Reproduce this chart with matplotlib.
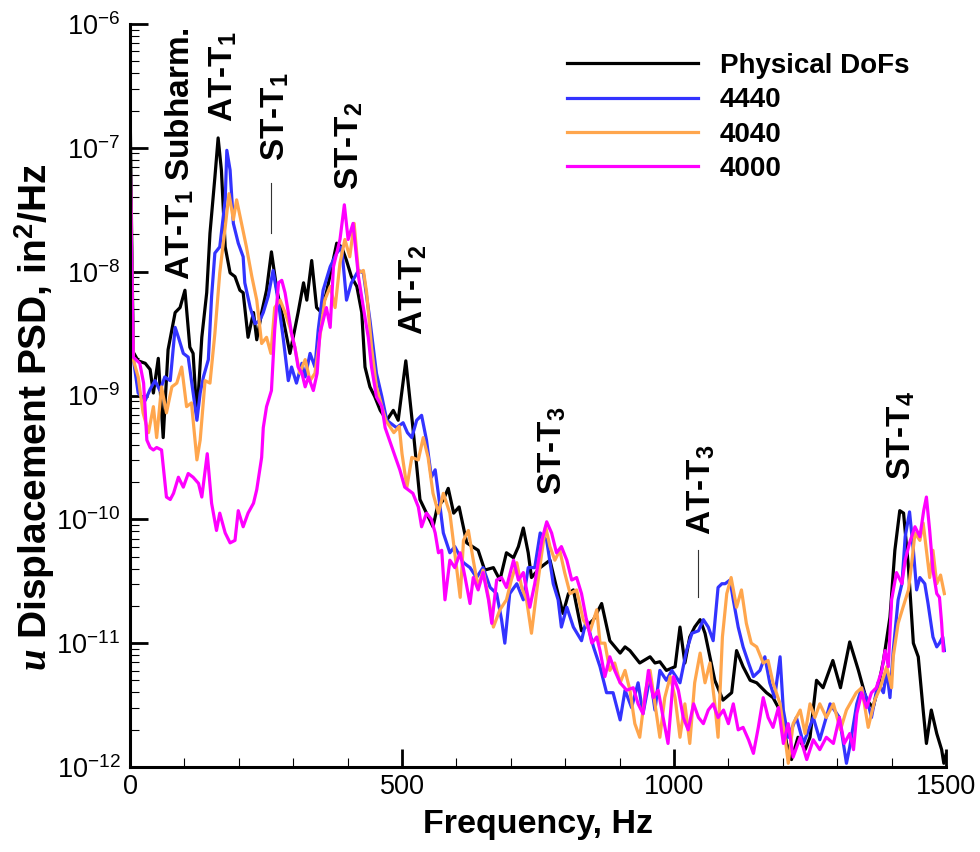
import numpy as np
import matplotlib
matplotlib.use("Agg")
import matplotlib.pyplot as plt
from matplotlib.ticker import MultipleLocator, LogLocator, NullFormatter

# PSD traces as (frequency in Hz, log10 of PSD in in^2/Hz) vertices
physical_dofs = [
    (0, -6.6), (3, -7.7), (6, -8.65), (15, -8.72), (28, -8.74), (37, -8.79), (43, -8.98),
    (52, -8.70), (61, -9.34), (70, -8.63), (83, -8.33), (92, -8.29), (101, -8.15), (110, -8.61),
    (116, -8.66), (123, -9.17), (132, -8.53), (141, -8.17), (147, -7.69), (156, -7.24), (162, -6.92),
    (168, -7.18), (175, -7.80), (184, -8.01), (193, -8.04), (202, -8.15), (208, -8.17), (217, -8.53),
    (227, -8.33), (233, -8.55), (242, -8.33), (251, -8.15), (260, -7.84), (270, -8.15), (282, -8.39),
    (294, -8.66), (300, -8.53), (309, -8.33), (319, -8.09), (325, -8.23), (334, -7.91), (343, -8.29),
    (352, -8.33), (362, -8.15), (371, -7.96), (380, -7.77), (389, -7.80), (398, -7.91), (407, -8.04),
    (417, -8.12), (426, -8.33), (432, -8.77), (441, -8.93), (450, -9.01), (460, -9.12), (472, -9.20),
    (484, -9.12), (493, -9.20), (507, -8.72), (521, -9.30), (533, -9.84), (545, -9.95), (557, -10.06),
    (565, -9.90), (575, -9.85), (585, -9.75), (595, -9.95), (605, -9.90), (619, -10.19), (640, -10.25),
    (652, -10.41), (668, -10.39), (680, -10.49), (692, -10.27), (705, -10.31), (714, -10.22),
    (723, -10.07), (732, -10.27), (738, -10.47), (754, -10.39), (772, -10.33), (784, -10.55),
    (796, -10.76), (806, -10.60), (815, -10.57), (830, -10.90), (852, -10.81), (867, -10.68),
    (882, -10.98), (901, -11.08), (910, -11.03), (919, -11.06), (928, -11.11), (937, -11.16),
    (956, -11.11), (965, -11.16), (974, -11.15), (986, -11.22), (1002, -11.19), (1011, -10.87),
    (1020, -11.16), (1029, -10.95), (1038, -10.87), (1048, -10.81), (1057, -10.92), (1066, -11.11),
    (1075, -11.30), (1090, -11.46), (1106, -11.40), (1115, -11.06), (1127, -11.19), (1140, -11.30),
    (1152, -11.32), (1170, -11.40), (1182, -11.44), (1198, -11.57), (1207, -11.81), (1216, -11.94),
    (1228, -11.76), (1241, -11.86), (1250, -11.76), (1262, -11.30), (1274, -11.36), (1292, -11.14),
    (1306, -11.36), (1323, -10.99), (1339, -11.22), (1354, -11.46), (1366, -11.52), (1375, -11.36),
    (1385, -11.14), (1397, -10.79), (1406, -10.25), (1415, -9.93), (1422, -9.95), (1431, -10.39),
    (1440, -11.00), (1449, -11.11), (1458, -11.54), (1464, -11.81), (1473, -11.54), (1483, -11.73),
    (1492, -11.86), (1496, -11.97), (1500, -11.90),
]

modes_4440 = [
    (0, -6.95), (3, -7.9), (6, -8.7), (15, -8.98), (28, -9.04), (37, -8.95), (46, -8.88),
    (55, -8.96), (64, -8.85), (74, -8.88), (83, -8.45), (89, -8.53), (98, -8.66), (107, -8.69),
    (113, -8.88), (123, -9.2), (129, -8.98), (135, -8.85), (144, -8.71), (150, -8.2), (156, -7.85),
    (165, -7.80), (175, -7.42), (178, -7.02), (184, -7.18), (190, -7.61), (199, -7.77), (208, -7.88),
    (211, -8.09), (221, -8.29), (230, -8.42), (239, -8.39), (245, -8.33), (254, -8.2), (263, -7.99),
    (273, -8.25), (282, -8.55), (291, -8.88), (297, -8.77), (306, -8.9), (316, -8.74), (322, -8.85),
    (331, -8.66), (340, -8.77), (346, -8.47), (355, -8.15), (368, -7.96), (380, -7.85), (389, -7.80),
    (398, -8.23), (407, -8.09), (420, -7.99), (429, -8.01), (441, -8.39), (453, -8.82), (463, -9.01),
    (472, -9.2), (490, -9.26), (502, -9.22), (510, -9.3), (518, -9.34), (527, -9.2), (536, -9.16),
    (545, -9.36), (554, -9.66), (561, -9.6), (570, -9.9), (576, -10.11), (588, -10.27), (597, -10.22),
    (613, -10.35), (625, -10.39), (637, -10.47), (649, -10.39), (662, -10.55), (674, -10.6),
    (683, -10.81), (689, -11.0), (698, -10.6), (711, -10.52), (723, -10.65), (732, -10.39),
    (744, -10.39), (754, -10.11), (766, -10.17), (778, -10.52), (787, -10.65), (793, -10.87),
    (803, -10.71), (815, -10.87), (830, -10.98), (839, -10.81), (852, -11.03), (864, -11.19),
    (876, -11.4), (888, -11.4), (901, -11.62), (910, -11.38), (922, -11.52), (934, -11.32),
    (943, -11.57), (956, -11.27), (965, -11.54), (974, -11.22), (986, -11.3), (996, -11.22),
    (1011, -11.32), (1023, -11.06), (1033, -10.92), (1045, -10.9), (1054, -10.81), (1063, -10.87),
    (1072, -10.98), (1081, -10.55), (1088, -10.52), (1094, -10.52), (1103, -10.49), (1109, -10.65),
    (1118, -10.87), (1127, -11.03), (1137, -11.16), (1146, -11.27), (1158, -11.22), (1167, -11.11),
    (1176, -11.32), (1185, -11.44), (1195, -11.11), (1201, -11.54), (1210, -11.76), (1225, -11.6),
    (1238, -11.81), (1256, -11.6), (1268, -11.78), (1287, -11.49), (1304, -11.6), (1317, -11.97),
    (1323, -11.84), (1336, -11.49), (1345, -11.36), (1354, -11.44), (1363, -11.6), (1375, -11.32),
    (1385, -11.4), (1391, -11.22), (1397, -11.44), (1403, -11.06), (1412, -10.65), (1419, -10.52),
    (1425, -10.14), (1433, -9.94), (1440, -10.25), (1446, -10.57), (1452, -10.47), (1461, -10.52),
    (1467, -10.68), (1476, -10.95), (1483, -11.03), (1488, -11.0), (1494, -10.95), (1497, -11.06),
]

modes_4040 = [
    (0, -6.95), (3, -7.9), (6, -8.71), (15, -8.85), (24, -9.14), (34, -9.3), (43, -9.09),
    (49, -9.34), (58, -8.93), (67, -9.14), (77, -8.93), (86, -8.9), (95, -8.77), (104, -9.09),
    (113, -9.06), (123, -9.52), (129, -9.36), (138, -8.88), (147, -8.9), (156, -8.5), (165, -8.01),
    (175, -7.64), (182, -7.37), (190, -7.58), (196, -7.42), (205, -7.61), (214, -7.80), (224, -8.04),
    (233, -8.23), (242, -8.58), (251, -8.53), (259, -8.66), (266, -8.29), (276, -8.23), (285, -8.33),
    (294, -8.45), (303, -8.61), (312, -8.82), (322, -8.71), (331, -8.88), (340, -8.82), (349, -8.53),
    (358, -8.23), (368, -8.12), (377, -8.29), (386, -7.93), (395, -7.74), (404, -7.88), (412, -7.61),
    (420, -8.01), (429, -7.99), (435, -8.17), (444, -8.61), (453, -8.93), (463, -9.09), (470, -9.2),
    (485, -9.3), (495, -9.25), (500, -9.47), (509, -9.74), (518, -9.5), (530, -9.52), (539, -9.34),
    (548, -9.5), (557, -9.79), (567, -9.95), (576, -9.79), (588, -9.95), (597, -10.27), (607, -10.63),
    (613, -10.17), (622, -10.09), (631, -10.33), (640, -10.55), (649, -10.41), (659, -10.63),
    (668, -10.87), (680, -10.73), (692, -10.65), (701, -10.49), (711, -10.35), (720, -10.55),
    (729, -10.65), (738, -10.92), (747, -10.6), (757, -10.27), (764, -10.06), (772, -10.22),
    (781, -10.33), (790, -10.25), (799, -10.43), (809, -10.6), (821, -10.57), (833, -10.81),
    (846, -10.9), (858, -10.73), (864, -11.0), (873, -11.0), (882, -11.22), (891, -11.16),
    (901, -11.32), (910, -11.22), (919, -11.38), (928, -11.65), (937, -11.76), (947, -11.4),
    (956, -11.22), (965, -11.49), (974, -11.76), (983, -11.44), (993, -11.27), (1002, -11.44),
    (1011, -11.76), (1020, -11.49), (1029, -11.81), (1038, -11.32), (1048, -11.08), (1057, -11.32),
    (1066, -11.16), (1075, -11.49), (1081, -11.76), (1089, -10.95), (1097, -10.6), (1105, -10.47),
    (1115, -10.71), (1124, -10.57), (1133, -10.84), (1142, -11.0), (1152, -11.03), (1164, -11.16),
    (1173, -11.14), (1182, -11.32), (1195, -11.49), (1204, -11.76), (1210, -11.97), (1219, -11.65),
    (1232, -11.54), (1241, -11.73), (1250, -11.49), (1259, -11.6), (1268, -11.49), (1280, -11.6),
    (1293, -11.49), (1306, -11.7), (1317, -11.54), (1335, -11.4), (1345, -11.36), (1357, -11.68),
    (1369, -11.46), (1379, -11.36), (1391, -11.19), (1400, -11.36), (1403, -11.11), (1412, -10.84),
    (1421, -10.71), (1431, -10.57), (1437, -10.35), (1443, -10.11), (1452, -10.17), (1458, -10.03),
    (1464, -10.25), (1470, -10.47), (1476, -10.25), (1483, -10.52), (1490, -10.45), (1497, -10.6),
]

modes_4000 = [
    (0, -6.95), (3, -7.9), (6, -8.69), (18, -8.74), (25, -8.9), (31, -9.36), (37, -9.42),
    (43, -9.44), (49, -9.42), (58, -9.44), (67, -9.82), (74, -9.84), (80, -9.79), (89, -9.66),
    (98, -9.74), (107, -9.63), (116, -9.66), (126, -9.71), (132, -9.82), (142, -9.47), (150, -9.87),
    (159, -10.09), (165, -9.95), (175, -10.11), (184, -10.19), (193, -10.17), (199, -9.93),
    (208, -10.06), (217, -9.95), (227, -9.87), (233, -9.76), (242, -9.5), (245, -9.26), (251, -9.09),
    (260, -8.96), (266, -8.47), (273, -8.09), (279, -8.07), (285, -8.17), (291, -8.33), (297, -8.5),
    (303, -8.61), (309, -8.77), (316, -8.82), (322, -8.93), (328, -8.85), (337, -8.96), (344, -8.82),
    (349, -8.50), (361, -8.29), (368, -8.45), (374, -7.96), (386, -7.74), (394, -7.46), (401, -7.74),
    (410, -7.61), (420, -8.04), (429, -8.29), (438, -8.53), (444, -8.77), (453, -9.01), (463, -9.09),
    (469, -9.26), (480, -9.4), (488, -9.5), (496, -9.6), (505, -9.74), (511, -9.76), (520, -9.79),
    (530, -9.9), (536, -10.06), (545, -9.95), (554, -10.0), (561, -10.11), (567, -10.27),
    (573, -10.25), (579, -10.65), (588, -10.33), (597, -10.39), (607, -10.27), (616, -10.47),
    (625, -10.68), (631, -10.47), (640, -10.57), (649, -10.43), (659, -10.65), (665, -10.84),
    (674, -10.49), (683, -10.47), (692, -10.55), (705, -10.33), (714, -10.49), (723, -10.43),
    (735, -10.71), (744, -10.52), (757, -10.17), (766, -10.02), (775, -10.11), (784, -10.27),
    (793, -10.22), (803, -10.33), (812, -10.49), (821, -10.47), (830, -10.6), (839, -10.81),
    (849, -11.0), (858, -10.95), (864, -11.06), (873, -11.27), (882, -11.11), (891, -11.22),
    (901, -11.32), (913, -11.38), (925, -11.36), (934, -11.49), (943, -11.57), (953, -11.22),
    (962, -11.44), (971, -11.38), (980, -11.6), (989, -11.81), (999, -11.27), (1008, -11.38),
    (1017, -11.6), (1026, -11.7), (1036, -11.49), (1045, -11.6), (1054, -11.65), (1063, -11.54),
    (1072, -11.49), (1081, -11.6), (1091, -11.54), (1100, -11.65), (1109, -11.49), (1118, -11.7),
    (1127, -11.68), (1137, -11.78), (1146, -11.89), (1155, -11.68), (1164, -11.44), (1173, -11.6),
    (1182, -11.68), (1192, -11.52), (1201, -11.81), (1210, -11.65), (1219, -11.92), (1232, -11.76),
    (1244, -11.94), (1256, -11.78), (1268, -11.86), (1280, -11.76), (1293, -11.81), (1304, -11.6),
    (1313, -11.81), (1323, -11.73), (1330, -11.86), (1336, -11.57), (1345, -11.4), (1354, -11.52),
    (1363, -11.4), (1372, -11.36), (1382, -11.22), (1388, -11.06), (1394, -11.19), (1400, -10.65),
    (1409, -10.43), (1419, -10.52), (1425, -10.33), (1433, -10.19), (1443, -10.06), (1452, -10.14),
    (1459, -9.93), (1464, -9.82), (1470, -10.09), (1476, -10.41), (1483, -10.6), (1488, -10.63),
    (1492, -10.84), (1495, -11.06),
]

series = [physical_dofs, modes_4440, modes_4040, modes_4000]
series_labels = ["Physical DoFs", "4440", "4040", "4000"]
series_colors = ["#000000", "#3333ff", "#ffa64d", "#ff00ff"]

# peak labels: text, frequency and log10 PSD at the lower end of the text
peak_texts = [
    r"AT-T$_{\mathdefault{1}}$ Subharm.", r"AT-T$_{\mathdefault{1}}$", r"ST-T$_{\mathdefault{1}}$",
    r"ST-T$_{\mathdefault{2}}$", r"AT-T$_{\mathdefault{2}}$", r"ST-T$_{\mathdefault{3}}$",
    r"AT-T$_{\mathdefault{3}}$", r"ST-T$_{\mathdefault{4}}$",
]
peak_freqs = [92, 171, 268, 404, 520, 776, 1050, 1417]
peak_levels = [-8.07, -6.79, -7.11, -7.34, -8.51, -9.80, -10.13, -9.68]

# short leader lines under two of the labels
leader_freqs = [259, 1044]
leader_low = [-7.69, -10.63]
leader_high = [-7.28, -10.25]

plt.rcParams["font.family"] = ["Liberation Sans", "DejaVu Sans"]
plt.rcParams["axes.unicode_minus"] = False
plt.rcParams["mathtext.fontset"] = "custom"
plt.rcParams["mathtext.it"] = "Liberation Serif:italic:bold"
plt.rcParams["mathtext.rm"] = "Liberation Sans"
plt.rcParams["mathtext.bf"] = "Liberation Sans:bold"

fig = plt.figure(figsize=(9.8, 8.52), dpi=100)
ax = fig.add_axes([130 / 980, 85 / 852, 816 / 980, 743 / 852])

for data, label, color in zip(series, series_labels, series_colors):
    f, lg = np.array(data).T
    ax.plot(f, 10.0 ** lg, color=color, lw=2.3, label=label)

for text, f, lg in zip(peak_texts, peak_freqs, peak_levels):
    ax.text(f, 10.0 ** lg, text, rotation=90, ha="center", va="bottom",
            fontsize=24, fontweight="bold")

for f, lo, hi in zip(leader_freqs, leader_low, leader_high):
    ax.plot([f, f], [10.0 ** lo, 10.0 ** hi], color="#333333", lw=0.8)

ax.set_yscale("log")
ax.set_xlim(0, 1500)
ax.set_ylim(1e-12, 1e-6)

ax.xaxis.set_major_locator(MultipleLocator(500))
ax.xaxis.set_minor_locator(MultipleLocator(100))
ax.yaxis.set_major_locator(LogLocator(base=10, numticks=20))
ax.yaxis.set_minor_locator(LogLocator(base=10, subs=np.arange(2, 10), numticks=100))
ax.yaxis.set_minor_formatter(NullFormatter())

for side in ["top", "right"]:
    ax.spines[side].set_visible(False)
for side in ["left", "bottom"]:
    ax.spines[side].set_linewidth(2.2)

ax.tick_params(which="major", direction="in", length=13, width=2, labelsize=19.5)
ax.tick_params(which="minor", direction="in", length=6.5, width=0.8)
ax.tick_params(axis="x", which="major", pad=5)
ax.tick_params(axis="y", which="major", pad=7)

ax.set_xlabel("Frequency, Hz", fontsize=24.5, fontweight="bold")
ax.xaxis.set_label_coords(0.5, -0.056)
ax.xaxis.label.set_va("top")
ax.set_ylabel(r"$\mathit{u}$ Displacement PSD, in$^{\mathdefault{2}}$/Hz",
              fontsize=28, fontweight="bold")
ax.yaxis.set_label_coords(-0.089, 0.47)

ax.legend(loc="upper left", bbox_to_anchor=(567 / 980, 1 - 53 / 852),
          bbox_transform=fig.transFigure, frameon=False,
          prop={"weight": "bold", "size": 20}, handlelength=4.7,
          handletextpad=0.8, labelspacing=0.3, borderpad=0, borderaxespad=0)

fig.savefig("out.png", dpi=100)
